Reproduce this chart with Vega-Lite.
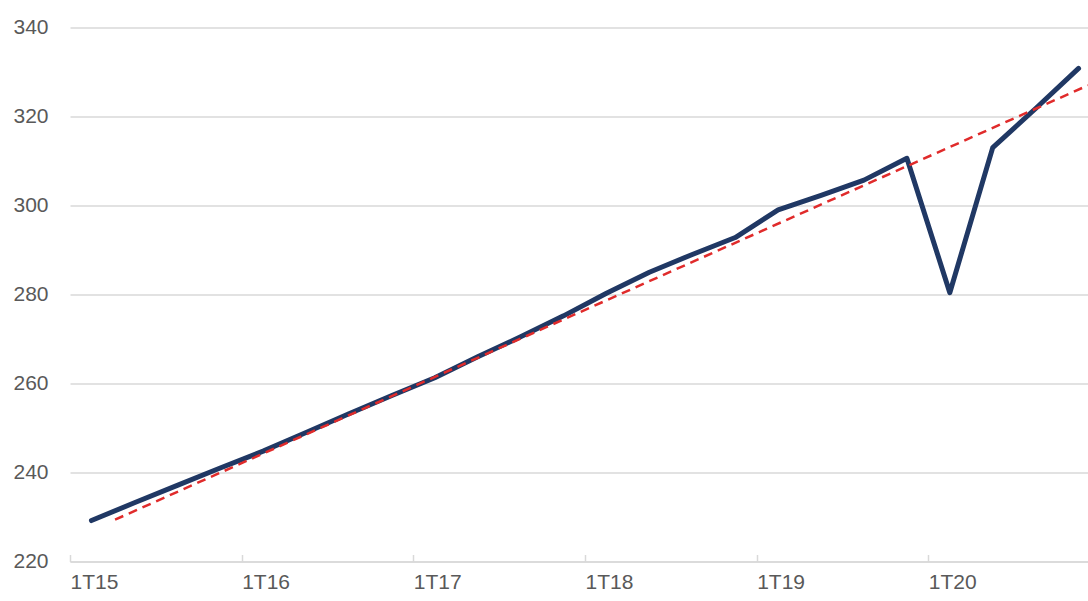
{
  "$schema": "https://vega.github.io/schema/vega-lite/v6.json",
  "autosize": {"type": "none"},
  "width": 1018,
  "height": 534,
  "padding": {"left": 70, "top": 27.5, "right": 0, "bottom": 39.5},
  "background": "white",
  "config": {
    "view": {"stroke": null},
    "axis": {"labelFont": "Liberation Sans", "labelFontSize": 21, "labelColor": "#595959"}
  },
  "datasets": {
    "series": [
      {"quarter": "1T15", "t": 0, "value": 229.2},
      {"quarter": "2T15", "t": 1, "value": 233.2},
      {"quarter": "3T15", "t": 2, "value": 237.1},
      {"quarter": "4T15", "t": 3, "value": 241.0},
      {"quarter": "1T16", "t": 4, "value": 244.8},
      {"quarter": "2T16", "t": 5, "value": 249.0},
      {"quarter": "3T16", "t": 6, "value": 253.2},
      {"quarter": "4T16", "t": 7, "value": 257.3},
      {"quarter": "1T17", "t": 8, "value": 261.3},
      {"quarter": "2T17", "t": 9, "value": 266.0},
      {"quarter": "3T17", "t": 10, "value": 270.5},
      {"quarter": "4T17", "t": 11, "value": 275.2},
      {"quarter": "1T18", "t": 12, "value": 280.3},
      {"quarter": "2T18", "t": 13, "value": 285.0},
      {"quarter": "3T18", "t": 14, "value": 289.0},
      {"quarter": "4T18", "t": 15, "value": 292.8},
      {"quarter": "1T19", "t": 16, "value": 299.0},
      {"quarter": "2T19", "t": 17, "value": 302.3},
      {"quarter": "3T19", "t": 18, "value": 305.7},
      {"quarter": "4T19", "t": 19, "value": 310.6},
      {"quarter": "1T20", "t": 20, "value": 280.4},
      {"quarter": "2T20", "t": 21, "value": 313.0},
      {"quarter": "3T20", "t": 22, "value": 321.8},
      {"quarter": "4T20", "t": 23, "value": 330.8}
    ],
    "trend": [
      {"t": 0.55, "value": 229.4},
      {"t": 23.22, "value": 327.0}
    ]
  },
  "layer": [
    {
      "data": {"name": "series"},
      "mark": {"type": "line", "color": "#203864", "strokeWidth": 5, "strokeCap": "round", "strokeJoin": "round", "clip": true},
      "encoding": {
        "x": {
          "field": "t", "type": "quantitative",
          "scale": {"domain": [-0.5, 23.22], "nice": false, "zero": false},
          "axis": {
            "title": null,
            "values": [-0.5, 3.5, 7.5, 11.5, 15.5, 19.5],
            "labelExpr": "'1T' + (15 + round((datum.value + 0.5) / 4))",
            "labelAlign": "left",
            "labelBaseline": "top",
            "labelPadding": 17,
            "labelDx": -2,
            "labelFlush": false,
            "labelBound": false,
            "labelOverlap": false,
            "grid": false,
            "domainColor": "#d9d9d9",
            "domainWidth": 1.5,
            "tickColor": "#d9d9d9",
            "tickWidth": 1.5,
            "tickSize": -7
          }
        },
        "y": {
          "field": "value", "type": "quantitative",
          "scale": {"domain": [220, 340], "nice": false, "zero": false},
          "axis": {
            "title": null,
            "values": [220, 240, 260, 280, 300, 320, 340],
            "domain": false,
            "ticks": false,
            "labelPadding": 22,
            "gridColor": "#d9d9d9",
            "gridWidth": 1.5
          }
        }
      }
    },
    {
      "data": {"name": "trend"},
      "mark": {"type": "line", "color": "#e02b2b", "strokeWidth": 2.5, "strokeDash": [9, 6], "clip": true},
      "encoding": {
        "x": {"field": "t", "type": "quantitative"},
        "y": {"field": "value", "type": "quantitative"}
      }
    }
  ]
}
